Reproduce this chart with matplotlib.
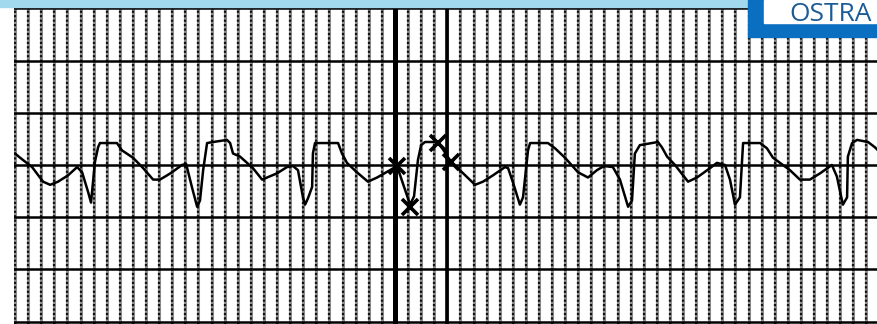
import numpy as np
import matplotlib.pyplot as plt
from matplotlib.patches import Rectangle

# rhythm strip trace: time (s) and amplitude (mV)
t_sec = [0.000, 0.019, 0.065, 0.107, 0.134, 0.164, 0.202, 0.237, 0.256, 0.279,
         0.290, 0.305, 0.317, 0.324, 0.389, 0.408, 0.450, 0.489, 0.527, 0.553,
         0.580, 0.599, 0.637, 0.653, 0.676, 0.695, 0.706, 0.718, 0.733, 0.756,
         0.809, 0.821, 0.832, 0.859, 0.908, 0.943, 0.962, 1.000, 1.038, 1.061,
         1.080, 1.099, 1.107, 1.118, 1.134, 1.137, 1.145, 1.233, 1.248, 1.267,
         1.305, 1.347, 1.382, 1.431, 1.458, 1.489, 1.508, 1.523, 1.538, 1.550,
         1.565, 1.615, 1.641, 1.664, 1.698, 1.756, 1.786, 1.824, 1.870, 1.882,
         1.901, 1.927, 1.939, 1.958, 1.966, 2.034, 2.061, 2.099, 2.149, 2.187,
         2.221, 2.248, 2.282, 2.309, 2.340, 2.355, 2.366, 2.385, 2.454, 2.469,
         2.489, 2.519, 2.569, 2.603, 2.653, 2.679, 2.710, 2.729, 2.748, 2.767,
         2.779, 2.844, 2.870, 2.893, 2.931, 2.958, 2.996, 3.034, 3.073, 3.118,
         3.137, 3.160, 3.176, 3.179, 3.195, 3.214, 3.256, 3.282, 3.294]
mv = [0.11, 0.07, -0.02, -0.16, -0.19, -0.16, -0.10, -0.02, -0.07, -0.26,
      -0.36, 0.03, 0.17, 0.21, 0.21, 0.14, 0.07, -0.03, -0.14, -0.14,
      -0.10, -0.07, 0.00, 0.01, -0.22, -0.40, -0.34, -0.05, 0.21, 0.22,
      0.24, 0.21, 0.11, 0.08, -0.03, -0.14, -0.12, -0.08, -0.02, -0.01,
      -0.05, -0.31, -0.38, -0.32, -0.21, 0.11, 0.21, 0.21, 0.11, 0.02,
      -0.07, -0.16, -0.12, -0.05, -0.01, -0.24, -0.38, -0.30, 0.05, 0.19,
      0.22, 0.22, 0.12, 0.03, -0.05, -0.19, -0.16, -0.10, -0.02, -0.03,
      -0.17, -0.38, -0.31, 0.14, 0.21, 0.21, 0.16, 0.07, -0.07, -0.12,
      -0.05, -0.01, -0.02, -0.14, -0.40, -0.34, 0.11, 0.19, 0.22, 0.17,
      0.08, 0.00, -0.16, -0.12, -0.03, 0.02, 0.00, -0.14, -0.38, -0.31,
      0.21, 0.21, 0.16, 0.07, 0.00, -0.05, -0.14, -0.14, -0.08, 0.00,
      -0.11, -0.38, -0.31, 0.08, 0.21, 0.24, 0.22, 0.17, 0.14]

# hand-placed crosses on the strip
mark_t = [1.458, 1.508, 1.615, 1.664]
mark_mv = [-0.01, -0.40, 0.21, 0.03]

# heavy vertical reference lines
ref_t = [1.45, 1.65]

fig = plt.figure(figsize=(8.78, 3.24), dpi=100)
ax = fig.add_axes([14 / 878, 0, 864 / 878, 1])
ax.set_xlim(-0.004, 3.294)
ax.set_ylim(-1.523, 1.580)
ax.axis('off')

# paper grid
for x in np.arange(0, 3.3, 0.05):
    ax.axvline(x, color='#8f8f8f', lw=2.2, zorder=1)
    ax.axvline(x, color='#111111', lw=1.6, dashes=(1.0, 1.0), zorder=1)
for y in np.arange(-1.5, 1.51, 0.5):
    ax.axhline(y, color='black', lw=1.8, zorder=2)
ax.axvline(ref_t[0], color='black', lw=3.6, zorder=3)
ax.axvline(ref_t[1], color='black', lw=2.6, zorder=3)

ax.plot(t_sec, mv, color='black', lw=1.8, zorder=4)
ax.plot(mark_t, mark_mv, 'x', color='black', ms=12, mew=2.6, zorder=5)

# header band and logo corner
top = fig.add_axes([0, 0, 1, 1])
top.set_xlim(0, 878)
top.set_ylim(324, 0)
top.axis('off')
top.add_patch(Rectangle((0, 0), 878, 7, color='#a2d9ef', zorder=1))
top.add_patch(Rectangle((748, 0), 130, 37, color='#0a6fc0', zorder=2))
top.add_patch(Rectangle((764, 0), 114, 23, color='white', zorder=3))
top.text(789, 21, 'OSTRA', fontsize=19, family='Open Sans', color='#1b5b96',
         va='baseline', ha='left', zorder=4)

fig.savefig('out.png', dpi=100)
